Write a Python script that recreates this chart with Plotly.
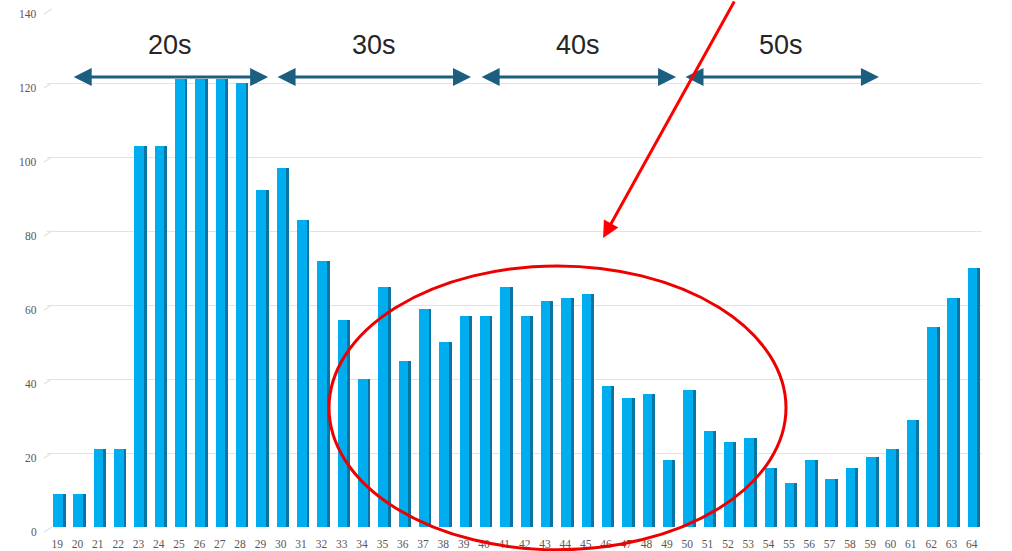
import plotly.graph_objects as go

# Ages along the x axis and the count for each age
ages = list(range(19, 65))
counts = [9, 9, 21, 21, 103, 103, 121, 121, 121, 120,
          91, 97, 83, 72, 56, 40, 65, 45, 59, 50,
          57, 57, 65, 57, 61, 62, 63, 38, 35, 36,
          18, 37, 26, 23, 24, 16, 12, 18, 13, 16,
          19, 21, 29, 54, 62, 70]

y_ticks = [0, 20, 40, 60, 80, 100, 120, 140]

# Decade brackets: label, start age, end age
decade_labels = ["20s", "30s", "40s", "50s"]
decade_start = [19.74, 29.77, 39.81, 49.84]
decade_end = [29.38, 39.36, 49.45, 59.43]

FRONT = "#00AEEF"
SIDE = "#0A74A3"
ARROW = "#1B5E80"
LABEL_COLOR = "#5E5454"
TICK_FONT = dict(family="Liberation Serif", size=11.5, color=LABEL_COLOR)

PLOT_W = 935
PLOT_H = 518

fig = go.Figure()

# Darker right-hand side of each bar, then the front face on top
fig.add_trace(go.Bar(x=ages, y=counts, width=0.61, offset=-0.2,
                     marker=dict(color=SIDE, line=dict(width=0)),
                     hoverinfo="skip", showlegend=False))
fig.add_trace(go.Bar(x=ages, y=counts, width=0.47, offset=-0.2,
                     marker=dict(color=FRONT, line=dict(width=0)),
                     showlegend=False))

annotations = []
shapes = []

# Double-headed arrows and decade labels above the bars
for lab, x0, x1 in zip(decade_labels, decade_start, decade_end):
    annotations.append(dict(x=x1, y=121.6, ax=x0, ay=121.6, xref="x", yref="y",
                            axref="x", ayref="y", text="", showarrow=True,
                            arrowhead=2, startarrowhead=2, arrowside="end+start",
                            arrowsize=1.2, startarrowsize=1.2,
                            arrowwidth=3, arrowcolor=ARROW))
    annotations.append(dict(x=(x0 + x1) / 2, y=130.3, xref="x", yref="y",
                            text=lab, showarrow=False,
                            font=dict(family="Liberation Sans", size=27, color="#262626")))

# Red pointer arrow coming in from the top edge
annotations.append(dict(x=45.86, y=78.1, xref="x", yref="y", text="",
                        showarrow=True, ax=132, ay=-242, axref="pixel", ayref="pixel",
                        arrowhead=2, arrowsize=1.1, arrowwidth=3, arrowcolor="#FF0000"))

# Red ellipse around the 30s-50s region
shapes.append(dict(type="circle", xref="paper", yref="paper",
                   x0=(329 - 47) / PLOT_W, x1=(786 - 47) / PLOT_W,
                   y0=-0.044, y1=0.504,
                   line=dict(color="#EE0000", width=3), layer="above"))

# Y labels sit at the front edge, joined to the back-wall gridlines by slanted stubs
for v in y_ticks:
    yp = v / 140
    shapes.append(dict(type="line", xref="paper", yref="paper",
                       x0=-3 / PLOT_W, y0=yp - 5 / PLOT_H, x1=5 / PLOT_W, y1=yp,
                       line=dict(color="#D9D9D9", width=1), layer="below"))
    annotations.append(dict(x=-8 / PLOT_W, y=yp, xref="paper", yref="paper",
                            text=str(v), showarrow=False, xanchor="right",
                            yanchor="middle", yshift=-5, font=TICK_FONT))

fig.update_layout(
    width=1012, height=551,
    margin=dict(l=47, r=30, t=9, b=24),
    plot_bgcolor="white", paper_bgcolor="white",
    barmode="overlay",
    bargap=0,
    annotations=annotations,
    shapes=shapes,
    xaxis=dict(range=[18.5, 64.5], tickmode="linear", tick0=19, dtick=1,
               showgrid=False, zeroline=False, showline=False, automargin=False,
               ticks="", tickfont=TICK_FONT, ticklabelstandoff=8),
    yaxis=dict(range=[0, 140], tickvals=y_ticks, showgrid=True,
               gridcolor="#E3E3E3", gridwidth=1, zeroline=False, automargin=False,
               showline=False, showticklabels=False, ticks=""),
)

fig.write_html("out.html")
